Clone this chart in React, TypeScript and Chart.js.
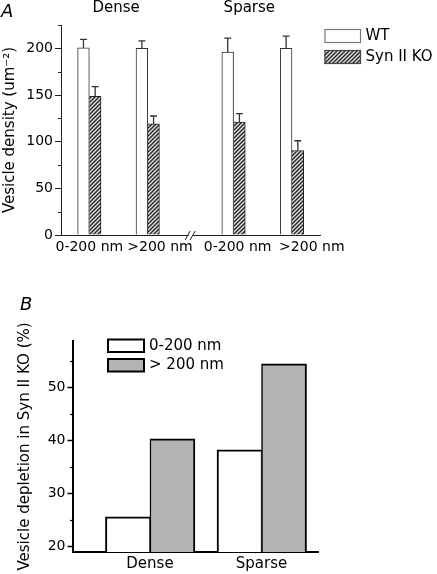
import React, { useEffect, useRef } from 'react';
import { Chart, registerables } from 'chart.js';
Chart.register(...registerables);

// ---------- Panel A data ----------
const A_GROUPS = ['Dense', 'Sparse'];
const A_CATEGORIES = ['0-200 nm', '>200 nm', '0-200 nm', '>200 nm'];
const A_SERIES = ['WT', 'Syn II KO'];
const A_WT = [200.5, 200, 196, 200];
const A_WT_ERR = [9, 8, 15, 13];
const A_KO = [148.5, 119, 121, 90.5];
const A_KO_ERR = [10.5, 8.5, 9, 10.5];
const A_Y_TICK_STEP = 25;
const A_Y_LABEL_STEP = 50;
const A_Y_MIN = 0;
const A_Y_MAX = 225;
const A_Y_TITLE = 'Vesicle density (um\u207B\u00B2)';

// ---------- Panel B data ----------
const B_CATEGORIES = ['Dense', 'Sparse'];
const B_SERIES = ['0-200 nm', '> 200 nm'];
const B_NEAR = [25.6, 38.2];
const B_FAR = [40.3, 54.4];
const B_Y_TICK_STEP = 5;
const B_Y_LABEL_STEP = 10;
const B_Y_MIN = 19;
const B_Y_MAX = 58.7;
const B_Y_TITLE = 'Vesicle depletion in Syn II KO (%)';

const FONT = '"DejaVu Sans", sans-serif';

// layout of the broken category axis (scale units)
const A_GROUP_GAP = 1.47;
const A_X = [0, 1, 1 + A_GROUP_GAP, 2 + A_GROUP_GAP];
const A_LABEL_SHIFT = [0, 0.21, 0.07, 0.34];
const A_GROUP_TITLE_X = [0.46, 2.74];
const A_BREAK_X = 1 + A_GROUP_GAP / 2;

function makeHatch(): CanvasPattern | string {
  const c = document.createElement('canvas');
  const s = 4;
  c.width = s; c.height = s;
  const g = c.getContext('2d');
  if (!g) return '#888';
  g.fillStyle = '#dedede';
  g.fillRect(0, 0, s, s);
  g.strokeStyle = '#262626';
  g.lineWidth = 1.4;
  g.beginPath();
  g.moveTo(0, s); g.lineTo(s, 0);
  g.moveTo(-s / 2, s / 2); g.lineTo(s / 2, -s / 2);
  g.moveTo(s / 2, s + s / 2); g.lineTo(s + s / 2, s / 2);
  g.stroke();
  const p = g.createPattern(c, 'repeat');
  return p || '#888';
}

function isMajor(v: number, step: number) {
  return Math.abs(v / step - Math.round(v / step)) < 1e-6;
}

function stepTicks(min: number, max: number, step: number) {
  const out: { value: number }[] = [];
  for (let v = Math.ceil(min / step - 1e-9) * step; v <= max + 1e-9; v += step) out.push({ value: v });
  return out;
}

const errorBarsPlugin = {
  id: 'errorBars',
  afterDatasetsDraw(chart: any) {
    const ctx = chart.ctx;
    const y = chart.scales.y;
    chart.data.datasets.forEach((ds: any, di: number) => {
      if (!ds.errors) return;
      const meta = chart.getDatasetMeta(di);
      meta.data.forEach((bar: any, i: number) => {
        const v = ds.data[i].y;
        const top = y.getPixelForValue(v + ds.errors[i]);
        ctx.save();
        ctx.strokeStyle = '#333';
        ctx.lineWidth = 1.3;
        ctx.beginPath();
        ctx.moveTo(bar.x, bar.y);
        ctx.lineTo(bar.x, top);
        ctx.moveTo(bar.x - 3.5, top);
        ctx.lineTo(bar.x + 3.5, top);
        ctx.stroke();
        ctx.restore();
      });
    });
  },
};

function minorTicksPlugin(labelStep: number, len: number, width: number, color: string) {
  return {
    id: 'minorTicks',
    afterDraw(chart: any) {
      const ctx = chart.ctx;
      const y = chart.scales.y;
      const x0 = chart.chartArea.left;
      ctx.save();
      ctx.strokeStyle = color;
      ctx.lineWidth = width;
      y.ticks.forEach((t: any) => {
        if (isMajor(t.value, labelStep)) return;
        const py = Math.round(y.getPixelForValue(t.value)) + 0.5;
        ctx.beginPath();
        ctx.moveTo(x0 - len, py);
        ctx.lineTo(x0, py);
        ctx.stroke();
      });
      ctx.restore();
    },
  };
}

const annotA = {
  id: 'annotA',
  afterDraw(chart: any) {
    const ctx = chart.ctx;
    const xs = chart.scales.x;
    const area = chart.chartArea;
    ctx.save();
    ctx.fillStyle = '#000';
    ctx.font = `italic 18px ${FONT}`;
    ctx.textBaseline = 'alphabetic';
    ctx.textAlign = 'left';
    ctx.fillText('A', 1, 17);
    ctx.font = `15px ${FONT}`;
    ctx.textAlign = 'center';
    A_GROUPS.forEach((g, i) => {
      ctx.fillText(g, xs.getPixelForValue(A_GROUP_TITLE_X[i]), 12);
    });
    const bx = xs.getPixelForValue(A_BREAK_X);
    const by = area.bottom;
    ctx.fillStyle = '#fff';
    ctx.fillRect(bx - 2, by - 2, 4, 4);
    ctx.strokeStyle = '#222';
    ctx.lineWidth = 1;
    ctx.beginPath();
    [-2.5, 2.5].forEach((d) => {
      ctx.moveTo(bx + d - 3, by + 5);
      ctx.lineTo(bx + d + 2, by - 4);
    });
    ctx.stroke();
    const lx = area.right + 4.5;
    const boxes = [29, 50];
    chart.data.datasets.forEach((ds: any, i: number) => {
      const top = boxes[i];
      ctx.fillStyle = ds.backgroundColor;
      ctx.fillRect(lx, top, 36.5, 14);
      ctx.strokeStyle = i === 0 ? '#777' : '#444';
      ctx.lineWidth = 1.2;
      ctx.strokeRect(lx + 0.5, top + 0.5, 35.5, 13);
      ctx.fillStyle = '#000';
      ctx.font = `15px ${FONT}`;
      ctx.textAlign = 'left';
      ctx.textBaseline = 'middle';
      ctx.fillText(ds.label, lx + 41, top + 7.5);
    });
    ctx.restore();
  },
};

const annotB = {
  id: 'annotB',
  afterDraw(chart: any) {
    const ctx = chart.ctx;
    ctx.save();
    ctx.fillStyle = '#000';
    ctx.font = `italic 18px ${FONT}`;
    ctx.textBaseline = 'alphabetic';
    ctx.textAlign = 'left';
    ctx.fillText('B', 20, 19.5);
    const lx = 108;
    const boxes = [49.5, 69];
    chart.data.datasets.forEach((ds: any, i: number) => {
      const top = boxes[i];
      ctx.fillStyle = ds.backgroundColor;
      ctx.fillRect(lx, top, 36, 12.5);
      ctx.strokeStyle = '#000';
      ctx.lineWidth = 2;
      ctx.strokeRect(lx, top, 36, 12.5);
      ctx.fillStyle = '#000';
      ctx.font = `15px ${FONT}`;
      ctx.textAlign = 'left';
      ctx.textBaseline = 'middle';
      ctx.fillText(ds.label, lx + 41, top + 6.5);
    });
    ctx.restore();
  },
};

export default function App() {
  const refA = useRef<HTMLCanvasElement>(null);
  const refB = useRef<HTMLCanvasElement>(null);

  useEffect(() => {
    const hatch = makeHatch();
    const tickFont = { family: FONT, size: 14 };
    const titleFont = { family: FONT, size: 15 };

    const chartA = new Chart(refA.current!, {
      type: 'bar',
      data: {
        datasets: [
          {
            label: A_SERIES[0],
            data: A_X.map((x, i) => ({ x, y: A_WT[i] })),
            backgroundColor: '#ffffff',
            borderColor: '#333',
            borderWidth: { left: 1, top: 1, right: 1, bottom: 0 },
            barThickness: 11.7,
            errors: A_WT_ERR,
          } as any,
          {
            label: A_SERIES[1],
            data: A_X.map((x, i) => ({ x, y: A_KO[i] })),
            backgroundColor: hatch,
            borderColor: '#222',
            borderWidth: { left: 0, top: 1, right: 1, bottom: 0 },
            barThickness: 11.7,
            errors: A_KO_ERR,
          } as any,
        ],
      },
      options: {
        animation: false,
        responsive: false,
        events: [],
        layout: { padding: { left: 0, right: 117, top: 25, bottom: 25 } },
        plugins: { legend: { display: false }, tooltip: { enabled: false } },
        scales: {
          x: {
            type: 'linear',
            min: A_X[0] - 0.485,
            max: 3.95,
            offset: false,
            grid: { display: false, drawTicks: false },
            border: { display: true, color: '#222', width: 1 },
            ticks: {
              autoSkip: false,
              maxRotation: 0,
              font: tickFont,
              color: '#000',
              padding: 4,
              callback: (_v: any, i: number) => A_CATEGORIES[i],
            },
            afterBuildTicks: (s: any) => {
              s.ticks = A_X.map((x, i) => ({ value: x + A_LABEL_SHIFT[i] }));
            },
            afterFit: (s: any) => { s.height = 30; },
          } as any,
          y: {
            min: A_Y_MIN,
            max: A_Y_MAX,
            ticks: {
              font: tickFont,
              color: '#000',
              padding: 2,
              callback: (v: any) => (isMajor(v, A_Y_LABEL_STEP) ? String(v) : ''),
            },
            afterBuildTicks: (s: any) => {
              s.ticks = stepTicks(A_Y_MIN, A_Y_MAX, A_Y_TICK_STEP);
            },
            grid: {
              drawOnChartArea: false,
              tickLength: 6,
              tickWidth: 1,
              tickColor: (c: any) => (c.tick && isMajor(c.tick.value, A_Y_LABEL_STEP) ? '#222' : 'rgba(0,0,0,0)'),
            },
            border: { display: true, color: '#222', width: 1 },
            title: { display: true, text: A_Y_TITLE, font: titleFont, color: '#000', padding: { top: 1, bottom: 0 } },
            afterFit: (s: any) => { s.width = 61; },
          } as any,
        },
      },
      plugins: [errorBarsPlugin, minorTicksPlugin(A_Y_LABEL_STEP, 3, 1, '#222'), annotA],
    } as any);

    const chartB = new Chart(refB.current!, {
      type: 'bar',
      data: {
        datasets: [
          {
            label: B_SERIES[0],
            data: B_CATEGORIES.map((_c, i) => ({ x: i, y: B_NEAR[i] })),
            backgroundColor: '#ffffff',
            borderColor: '#000',
            borderWidth: { left: 2, top: 2, right: 1, bottom: 0 },
            barThickness: 44.5,
          } as any,
          {
            label: B_SERIES[1],
            data: B_CATEGORIES.map((_c, i) => ({ x: i, y: B_FAR[i] })),
            backgroundColor: '#b4b4b4',
            borderColor: '#000',
            borderWidth: { left: 1.5, top: 2, right: 2, bottom: 0 },
            barThickness: 45,
          } as any,
        ],
      },
      options: {
        animation: false,
        responsive: false,
        events: [],
        layout: { padding: { left: 0, right: 119, top: 51, bottom: 2 } },
        plugins: { legend: { display: false }, tooltip: { enabled: false } },
        scales: {
          x: {
            type: 'linear',
            min: -0.694,
            max: 1.506,
            offset: false,
            grid: { display: false, drawTicks: false },
            border: { display: true, color: '#000', width: 2 },
            ticks: {
              autoSkip: false,
              maxRotation: 0,
              font: titleFont,
              color: '#000',
              padding: 3,
              callback: (_v: any, i: number) => B_CATEGORIES[i],
            },
            afterBuildTicks: (s: any) => {
              s.ticks = B_CATEGORIES.map((_c, i) => ({ value: i }));
            },
            afterFit: (s: any) => { s.height = 20; },
          } as any,
          y: {
            min: B_Y_MIN,
            max: B_Y_MAX,
            ticks: {
              font: tickFont,
              color: '#000',
              padding: 2,
              callback: (v: any) => (isMajor(v, B_Y_LABEL_STEP) ? String(v) : ''),
            },
            afterBuildTicks: (s: any) => {
              s.ticks = stepTicks(B_Y_MIN, B_Y_MAX, B_Y_TICK_STEP);
            },
            grid: {
              drawOnChartArea: false,
              tickLength: 5,
              tickWidth: 1.5,
              tickColor: (c: any) => (c.tick && isMajor(c.tick.value, B_Y_LABEL_STEP) ? '#000' : 'rgba(0,0,0,0)'),
            },
            border: { display: true, color: '#000', width: 2 },
            title: { display: true, text: B_Y_TITLE, font: titleFont, color: '#000', padding: { top: 16, bottom: 0 } },
            afterFit: (s: any) => { s.width = 72.5; },
          } as any,
        },
      },
      plugins: [minorTicksPlugin(B_Y_LABEL_STEP, 2.5, 1.2, '#000'), annotB],
    } as any);

    return () => {
      chartA.destroy();
      chartB.destroy();
    };
  }, []);

  return (
    <div style={{ position: 'absolute', left: 0, top: 0, width: 437, height: 574, background: '#fff' }}>
      <canvas ref={refA} width={437} height={290} style={{ position: 'absolute', left: 0, top: 0, width: 437, height: 290 }} />
      <canvas ref={refB} width={437} height={284} style={{ position: 'absolute', left: 0, top: 290, width: 437, height: 284 }} />
    </div>
  );
}
